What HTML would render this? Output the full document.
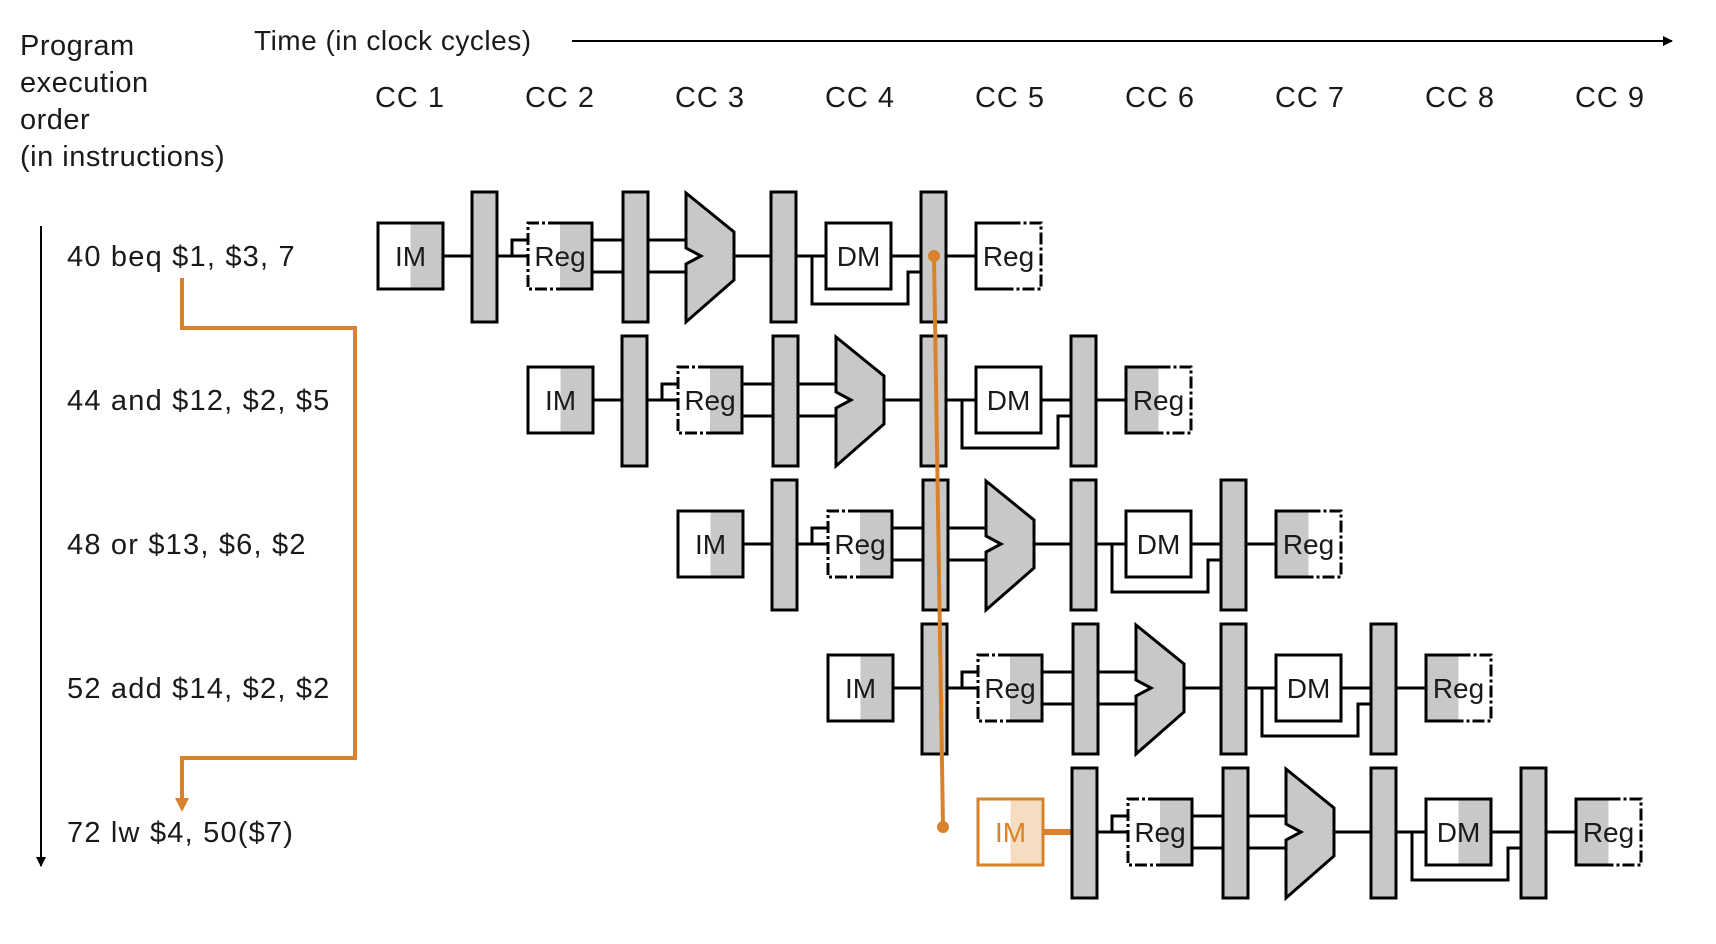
<!DOCTYPE html>
<html><head><meta charset="utf-8"><style>
html,body{margin:0;padding:0;background:#fff;width:1716px;height:944px;overflow:hidden}
svg{display:block}
text{font-family:"Liberation Sans",Arial,sans-serif;fill:#1a1a1a}
</style></head><body>
<svg id="chart" width="1716" height="944" viewBox="0 0 1716 944" xmlns="http://www.w3.org/2000/svg">
<defs>
<marker id="ah" markerWidth="10" markerHeight="10" refX="9" refY="5" orient="auto" markerUnits="userSpaceOnUse"><path d="M0,0 L10,5 L0,10 z" fill="#000"/></marker>
</defs>
</svg>
<script>
const cycleLabels = ["CC 1","CC 2","CC 3","CC 4","CC 5","CC 6","CC 7","CC 8","CC 9"];
const instructions = ["40 beq $1, $3, 7","44 and $12, $2, $5","48 or $13, $6, $2","52 add $14, $2, $2","72 lw $4, 50($7)"];
const startCycle = [0,1,2,3,4];
const regWriteUsed = [false,true,true,true,true];
const memReadUsed = [false,false,false,false,true];
const highlightIM = [false,false,false,false,true];

const svg = document.getElementById('chart');
const NS = 'http://www.w3.org/2000/svg';
const ORANGE = '#d9822b', GRAY = '#c8c8c8';
const X0 = 378, PITCH = 150, Y0 = 256, ROWP = 144;
const xStage = c => X0 + PITCH * c;
const yRow = r => Y0 + ROWP * r;

function mk(tag, attrs, parent) {
  const e = document.createElementNS(NS, tag);
  for (const k in attrs) e.setAttribute(k, attrs[k]);
  (parent || svg).appendChild(e);
  return e;
}
function line(x1,y1,x2,y2,parent,stroke,w){
  return mk('path',{d:`M${x1},${y1} L${x2},${y2}`,stroke:stroke||'#000','stroke-width':w||3,fill:'none'},parent);
}

const hdr = ["Program","execution","order","(in instructions)"];
hdr.forEach((t,i)=>{
  const e = mk('text',{x:20,y:55+37*i,'font-size':29,'letter-spacing':0.5});
  
  
  e.textContent = t;
});
const tt = mk('text',{x:254,y:50,'font-size':28,'letter-spacing':0.5});


tt.textContent = 'Time (in clock cycles)';
const ta = mk('path',{d:'M572,41 L1672,41',stroke:'#000','stroke-width':2,'marker-end':'url(#ah)'});



cycleLabels.forEach((t,i)=>{
  const e = mk('text',{x:xStage(i)+32,y:107,'font-size':29,'text-anchor':'middle','letter-spacing':1});
  
  
  e.textContent = t;
});

const va = mk('path',{d:'M41,226 L41,866',stroke:'#000','stroke-width':2,'marker-end':'url(#ah)'});



function box(x,y,w,h,label,grayHalf,border,parent,name,colr){
  const g = mk('g',{},parent);
  
  
  const c = colr||'#000';
  mk('rect',{x:x,y:y,width:w,height:h,fill:'#fff'},g);
  if(grayHalf==='right') mk('rect',{x:x+w/2,y:y,width:w/2,height:h,fill:colr?'#f6dcc0':GRAY},g);
  if(grayHalf==='left') mk('rect',{x:x,y:y,width:w/2,height:h,fill:GRAY},g);
  if(border==='solid'){
    mk('rect',{x:x,y:y,width:w,height:h,fill:'none',stroke:c,'stroke-width':3},g);
  } else {
    const solid = border==='dashLeft' ? 'right':'left';
    const m = x+w/2;
    const sAttr = {stroke:'#000','stroke-width':3,fill:'none'};
    const dAttr = {stroke:'#000','stroke-width':3,fill:'none','stroke-dasharray':'12,3,3,3'};
    if(solid==='right'){
      mk('path',Object.assign({d:`M${m},${y} L${x+w},${y} L${x+w},${y+h} L${m},${y+h}`},sAttr),g);
      mk('path',Object.assign({d:`M${m},${y} L${x},${y} L${x},${y+h} L${m},${y+h}`},dAttr),g);
    } else {
      mk('path',Object.assign({d:`M${m},${y} L${x},${y} L${x},${y+h} L${m},${y+h}`},sAttr),g);
      mk('path',Object.assign({d:`M${m},${y} L${x+w},${y} L${x+w},${y+h} L${m},${y+h}`},dAttr),g);
    }
  }
  const t = mk('text',{x:x+w/2,y:y+h/2+10,'font-size':28,'text-anchor':'middle'},g);
  if(colr) t.setAttribute('style','fill:'+colr);
  t.textContent = label;
  return g;
}
function bar(x,c,parent){
  const r = mk('rect',{x:x,y:c-64,width:25,height:130,fill:GRAY,stroke:'#000','stroke-width':3},parent);
  
  
}

instructions.forEach((ins,r)=>{
  const X = xStage(startCycle[r]), c = yRow(r);
  const g = mk('g',{});
  
  
  const lt = mk('text',{x:67,y:c+10,'font-size':29,'letter-spacing':1.2},g);
  
  
  lt.textContent = ins;
  const hl = highlightIM[r];
  line(X+65,c,X+94,c,g,hl?ORANGE:'#000',hl?6:3);
  line(X+119,c,X+150,c,g);
  mk('path',{d:`M${X+134},${c} L${X+134},${c-16} L${X+150},${c-16}`,stroke:'#000','stroke-width':3,fill:'none'},g);
  line(X+214,c-16,X+308,c-16,g); line(X+214,c+16,X+308,c+16,g);
  line(X+356,c,X+393,c,g);
  line(X+419,c,X+448,c,g);
  mk('path',{d:`M${X+434},${c} L${X+434},${c+48} L${X+530},${c+48} L${X+530},${c+16} L${X+543},${c+16}`,stroke:'#000','stroke-width':3,fill:'none'},g);
  line(X+513,c,X+543,c,g);
  line(X+568,c,X+598,c,g);
  box(X,c-33,65,66,'IM','right','solid',g,'instruction-memory',hl?ORANGE:null);
  bar(X+94,c,g);
  box(X+150,c-33,64,66,'Reg','right','dashLeft',g,'register-read');
  bar(X+245,c,g);
  const A = X+308;
  const alu = mk('polygon',{points:`${A},${c-63} ${A+48},${c-24} ${A+48},${c+24} ${A},${c+66} ${A},${c+8} ${A+15},${c} ${A},${c-8}`,fill:GRAY,stroke:'#000','stroke-width':3},g);
  
  
  bar(X+393,c,g);
  box(X+448,c-33,65,66,'DM',memReadUsed[r]?'right':'none','solid',g,'data-memory');
  bar(X+543,c,g);
  box(X+598,c-33,65,66,'Reg',regWriteUsed[r]?'left':'none','dashRight',g,'register-write');
});

const br = mk('path',{d:`M182,278 L182,328 L355,328 L355,758 L182,758 L182,800`,stroke:ORANGE,'stroke-width':4,fill:'none'});


const bh = mk('path',{d:'M175,798 L189,798 L182,812 z',fill:ORANGE});


const vx1 = xStage(startCycle[0])+543+13, vy1 = yRow(0), vy2 = yRow(4)-5;
const ov = mk('path',{d:`M${vx1},${vy1} L${vx1+9},${vy2}`,stroke:ORANGE,'stroke-width':4,fill:'none'});


const d1 = mk('circle',{cx:vx1,cy:vy1,r:6,fill:ORANGE});


const d2 = mk('circle',{cx:vx1+9,cy:vy2,r:6,fill:ORANGE});


</script>
</body></html>
